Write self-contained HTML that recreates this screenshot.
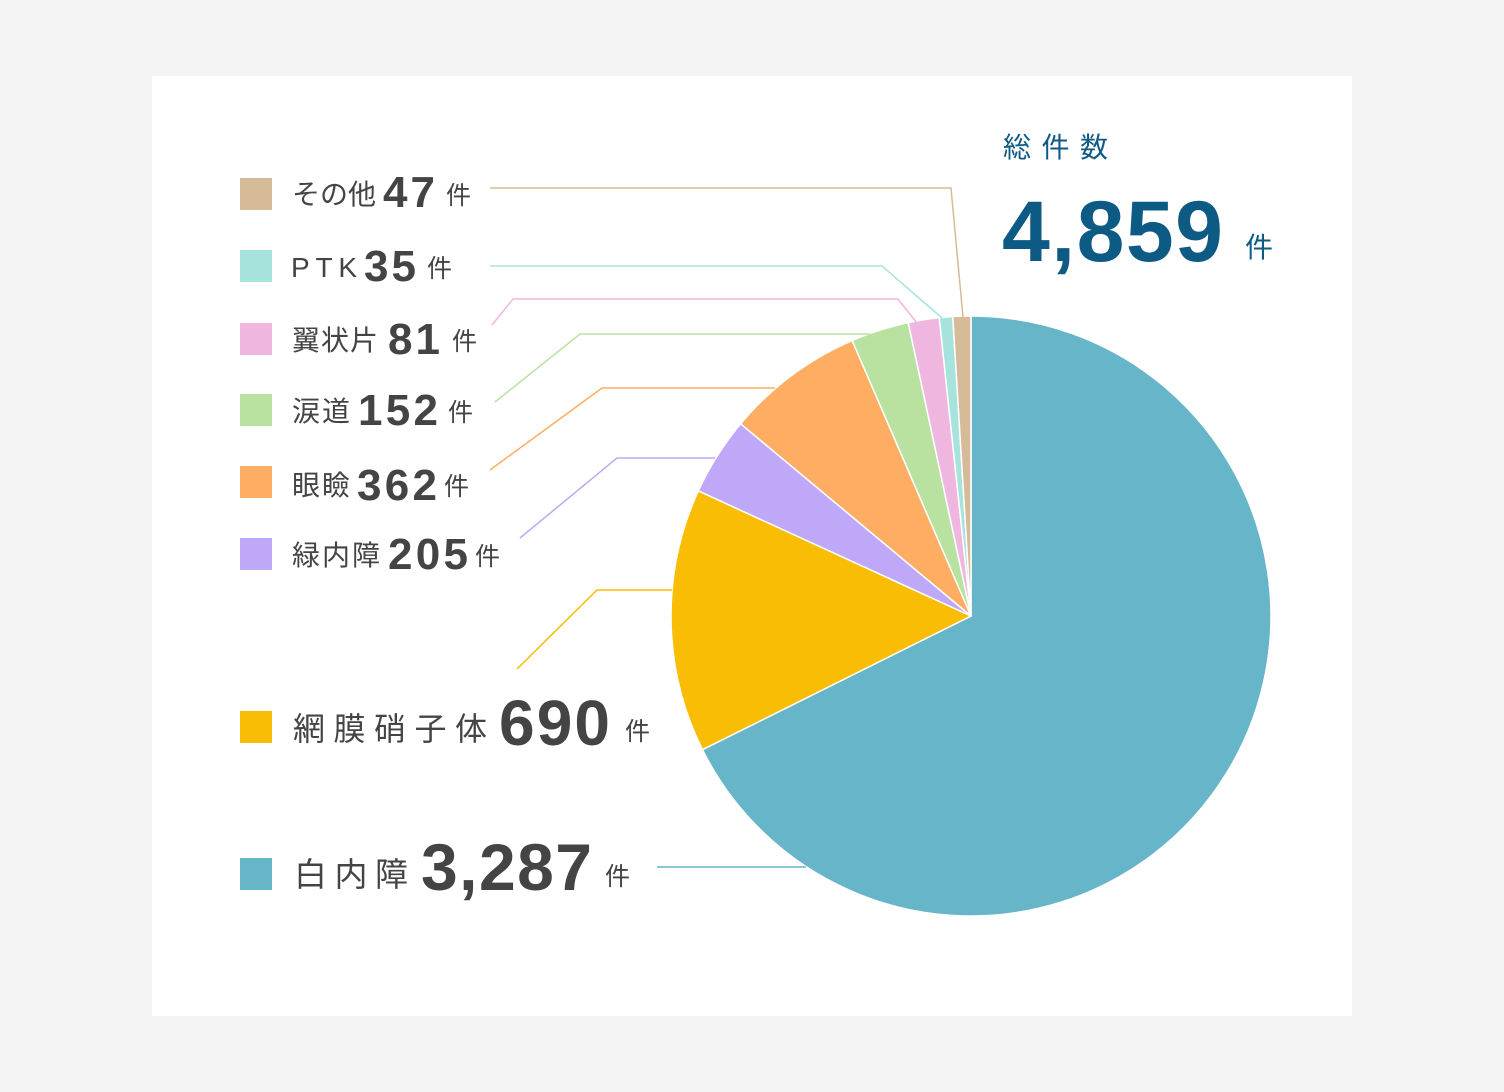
<!DOCTYPE html>
<html><head><meta charset="utf-8"><style>
body{margin:0;background:#f4f4f4;width:1504px;height:1092px;overflow:hidden}
svg{position:absolute;left:0;top:0}
text{font-family:"Liberation Sans","Noto Sans CJK JP",sans-serif;fill:#444}
.l{font-size:28px}.n{font-weight:bold}.k{font-size:25px}
</style></head><body>
<svg width="1504" height="1092">
<rect x="152" y="76" width="1200" height="940" fill="#fff"/>
<g id="slices"></g>
<g fill="none" stroke-width="1.5">
<polyline points="490,188 951,188 963,317" stroke="#d6bb98"/>
<polyline points="490,266 882,266 942,318" stroke="#a6e3dc"/>
<polyline points="492,325 513,299 898,299 917,323" stroke="#efb7df"/>
<polyline points="495,402 580,334 870,334" stroke="#b9e2a0"/>
<polyline points="490,470 602,388 775,388" stroke="#fead62"/>
<polyline points="520,538 617,458 715,458" stroke="#c0a8f8"/>
<polyline points="517,669 597,590 672,590" stroke="#f8bd04"/>
<polyline points="657,867 806,867" stroke="#67b5c9"/>
</g>
<g>
<rect x="240" y="178" width="32" height="32" fill="#d6bb98"/>
<text x="292" y="204" class="l" textLength="84">その他</text><text x="383" y="207" class="n" font-size="44" textLength="52">47</text><text x="446" y="204" class="k">件</text>
<rect x="240" y="250" width="32" height="32" fill="#a6e3dc"/>
<text x="291" y="277" class="l" textLength="66">PTK</text><text x="364" y="281" class="n" font-size="44" textLength="52">35</text><text x="427" y="277" class="k">件</text>
<rect x="240" y="323" width="32" height="32" fill="#efb7df"/>
<text x="292" y="350" class="l" textLength="86">翼状片</text><text x="388" y="354" class="n" font-size="44" textLength="52">81</text><text x="452" y="350" class="k">件</text>
<rect x="240" y="394" width="32" height="32" fill="#b9e2a0"/>
<text x="292" y="421" class="l" textLength="58">涙道</text><text x="358" y="425" class="n" font-size="44" textLength="80">152</text><text x="448" y="421" class="k">件</text>
<rect x="240" y="466" width="32" height="32" fill="#fead62"/>
<text x="292" y="495" class="l" textLength="58">眼瞼</text><text x="357" y="500" class="n" font-size="44" textLength="80">362</text><text x="444" y="495" class="k">件</text>
<rect x="240" y="538" width="32" height="32" fill="#c0a8f8"/>
<text x="292" y="565" class="l" textLength="88">緑内障</text><text x="388" y="569" class="n" font-size="44" textLength="80">205</text><text x="475" y="565" class="k">件</text>
<rect x="240" y="711" width="32" height="32" fill="#f8bd04"/>
<text x="293" y="740" font-size="32" textLength="194">網膜硝子体</text><text x="499" y="745" class="n" font-size="64" textLength="111">690</text><text x="625" y="740" class="k">件</text>
<rect x="240" y="858" width="32" height="32" fill="#67b5c9"/>
<text x="294" y="886" font-size="33" textLength="114">白内障</text><text x="421" y="890" class="n" font-size="66" textLength="171">3,287</text><text x="605" y="885" class="k">件</text>
</g>
<text x="1003" y="157" font-size="28" textLength="105" style="fill:#0d5a85">総件数</text>
<text x="1002" y="261" class="n" font-size="86" textLength="221" style="fill:#0d5a85">4,859</text>
<text x="1245" y="257" font-size="28" style="fill:#0d5a85">件</text>
</svg>
<script>
const categories=["白内障","網膜硝子体","緑内障","眼瞼","涙道","翼状片","PTK","その他"];
const values=[3287,690,205,362,152,81,35,47];
const colors=["#67b5c9","#f8bd04","#c0a8f8","#fead62","#b9e2a0","#efb7df","#a6e3dc","#d6bb98"];
const cx=971,cy=616,r=300;
const total=values.reduce((a,b)=>a+b,0);
const g=document.getElementById('slices');
let a0=0;
values.forEach((v,i)=>{
  const a1=a0+v/total*2*Math.PI;
  const p=(a)=>[cx+r*Math.sin(a),cy-r*Math.cos(a)];
  const [x0,y0]=p(a0),[x1,y1]=p(a1);
  const large=(a1-a0)>Math.PI?1:0;
  const el=document.createElementNS('http://www.w3.org/2000/svg','path');
  el.setAttribute('d',`M${cx},${cy}L${x0},${y0}A${r},${r} 0 ${large} 1 ${x1},${y1}Z`);
  el.setAttribute('fill',colors[i]);
  el.setAttribute('stroke','#fff');
  el.setAttribute('stroke-width','1.5');
  
  
  g.appendChild(el);
  a0=a1;
});
</script>
</body></html>
